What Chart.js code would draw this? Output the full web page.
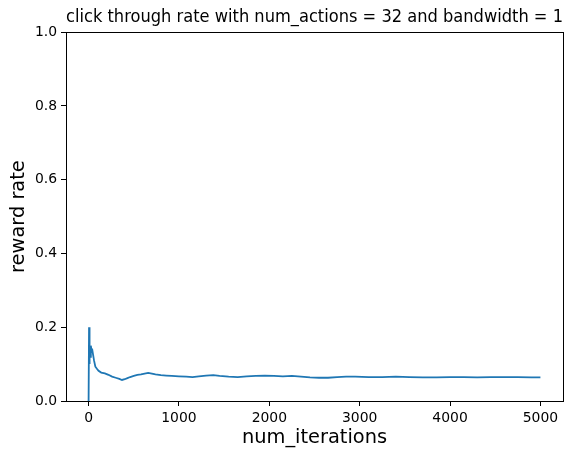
<!DOCTYPE html>
<html>
<head>
<meta charset="utf-8">
<script src="https://cdn.jsdelivr.net/npm/chart.js@4.4.1/dist/chart.umd.min.js"></script>
<style>
  html, body { margin: 0; padding: 0; background: #ffffff; }
  #wrap { width: 577px; height: 461px; position: relative; }
</style>
</head>
<body>
<div id="wrap"><canvas id="c" width="577" height="461"></canvas></div>
<script>
// ---- data ----
const iterations = [0, 2, 5, 7, 9, 12, 15, 20, 25, 30, 40, 50, 60, 75, 90, 110, 140, 180, 220, 260, 300, 340, 370, 400, 430, 460, 500, 540, 580, 620, 660, 700, 740, 800, 860, 920, 1000, 1080, 1150, 1220, 1300, 1380, 1450, 1550, 1650, 1750, 1850, 1950, 2050, 2150, 2250, 2350, 2450, 2550, 2650, 2750, 2850, 2950, 3100, 3250, 3400, 3550, 3700, 3850, 4000, 4150, 4300, 4450, 4600, 4750, 4900, 5000];
const rewardRate = [0.0, 0.0, 0.2, 0.1, 0.15, 0.13, 0.15, 0.12, 0.15, 0.14, 0.14, 0.125, 0.11, 0.093, 0.088, 0.082, 0.077, 0.075, 0.071, 0.066, 0.063, 0.060, 0.057, 0.059, 0.062, 0.065, 0.068, 0.071, 0.072, 0.074, 0.076, 0.074, 0.072, 0.070, 0.069, 0.068, 0.067, 0.066, 0.065, 0.067, 0.069, 0.070, 0.068, 0.066, 0.065, 0.067, 0.068, 0.069, 0.068, 0.067, 0.068, 0.066, 0.064, 0.063, 0.063, 0.065, 0.066, 0.066, 0.065, 0.065, 0.066, 0.065, 0.064, 0.064, 0.065, 0.065, 0.064, 0.065, 0.065, 0.065, 0.064, 0.064];
const xTicks = [0, 1000, 2000, 3000, 4000, 5000];
const yTicks = [0.0, 0.2, 0.4, 0.6, 0.8, 1.0];
const titleText = 'click through rate with num_actions = 32 and bandwidth = 1';
const xLabel = 'num_iterations';
const yLabel = 'reward rate';

const FONT = "'DejaVu Sans', sans-serif";
const points = iterations.map((x, i) => ({ x: x, y: rewardRate[i] }));

const frame = {
  id: 'frame',
  afterDatasetsDraw(chart) {
    const { ctx, chartArea: a } = chart;
    ctx.save();
    ctx.strokeStyle = '#000';
    ctx.lineWidth = 1;
    ctx.strokeRect(Math.round(a.left) + 0.5, Math.round(a.top) + 0.5,
                   Math.round(a.right - a.left), Math.round(a.bottom - a.top));
    ctx.restore();
  }
};

new Chart(document.getElementById('c'), {
  type: 'line',
  data: {
    datasets: [{
      data: points,
      borderColor: '#1f77b4',
      borderWidth: 1.8,
      pointRadius: 0,
      tension: 0,
      fill: false
    }]
  },
  options: {
    responsive: false,
    animation: false,
    parsing: true,
    layout: { padding: { left: 0, right: 14, top: 0, bottom: 0 } },
    plugins: {
      legend: { display: false },
      tooltip: { enabled: false },
      title: {
        display: true,
        text: titleText,
        fullSize: false,
        color: '#000',
        font: { family: FONT, size: 16.8, weight: 'normal', lineHeight: 1.2 },
        padding: { top: 8, bottom: 4 }
      }
    },
    scales: {
      x: {
        type: 'linear',
        min: -250,
        max: 5250,
        afterBuildTicks(s) { s.ticks = xTicks.map(v => ({ value: v })); },
        afterFit(s) { s.height = 60; },
        grid: { drawOnChartArea: false, drawTicks: true, tickLength: 5, color: '#000', lineWidth: 1 },
        border: { display: false },
        ticks: {
          color: '#000',
          padding: 4,
          maxRotation: 0,
          autoSkip: false,
          font: { family: FONT, size: 13.9 },
          callback: v => String(v)
        },
        title: {
          display: true,
          text: xLabel,
          color: '#000',
          font: { family: FONT, size: 19.4 },
          padding: { top: 0, bottom: 11 }
        }
      },
      y: {
        type: 'linear',
        min: 0,
        max: 1,
        afterBuildTicks(s) { s.ticks = yTicks.map(v => ({ value: v })); },
        afterFit(s) { s.width = 66; },
        grid: { drawOnChartArea: false, drawTicks: true, tickLength: 5, color: '#000', lineWidth: 1 },
        border: { display: false },
        ticks: {
          color: '#000',
          padding: 4,
          autoSkip: false,
          font: { family: FONT, size: 13.9 },
          callback: v => Number(v).toFixed(1)
        },
        title: {
          display: true,
          text: yLabel,
          color: '#000',
          font: { family: FONT, size: 19.4 },
          padding: { top: 7, bottom: 0 }
        }
      }
    }
  },
  plugins: [frame]
});
</script>
</body>
</html>
